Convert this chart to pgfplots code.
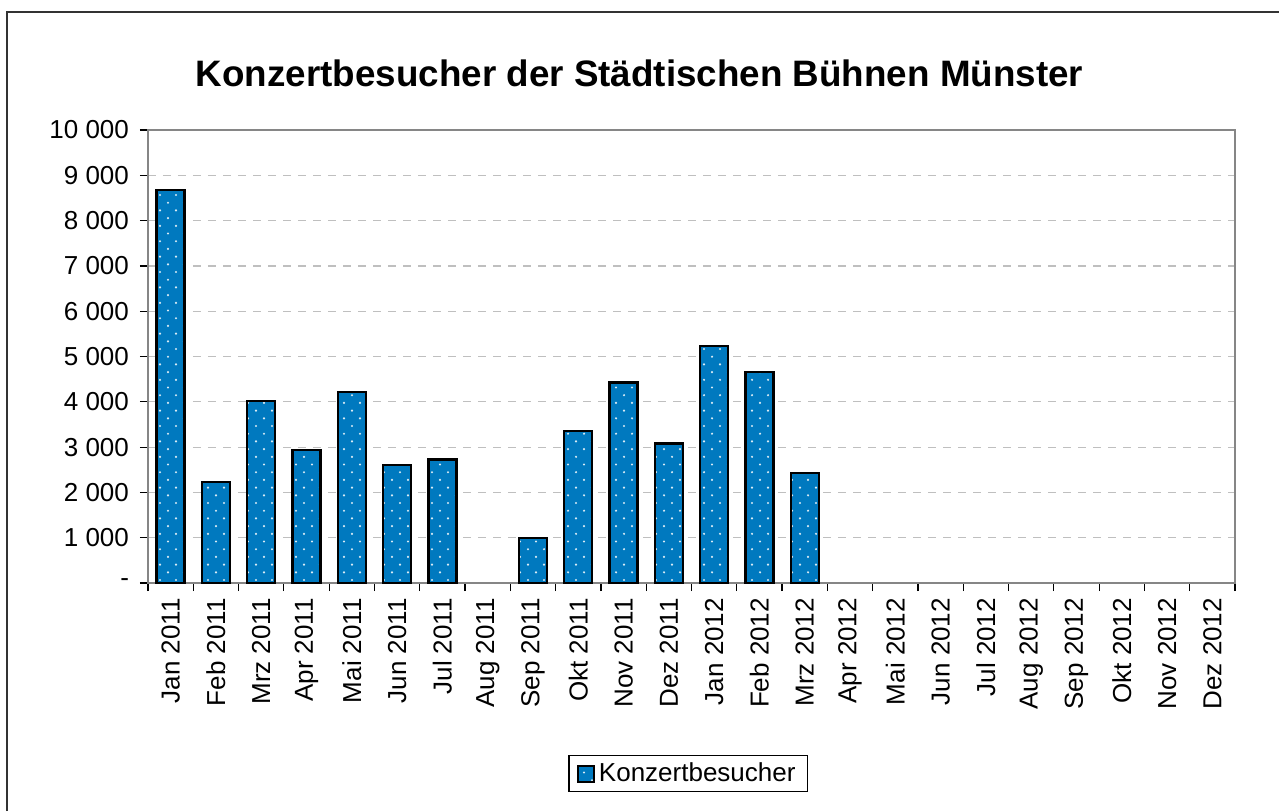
\documentclass[border=0pt]{standalone}
\usepackage{pgfplots}
\pgfplotsset{compat=1.18}
\usepackage{fontspec}
\setmainfont{Liberation Sans}
\usetikzlibrary{patterns.meta}
\definecolor{barblue}{RGB}{0,121,191}
\definecolor{framegray}{RGB}{134,134,134}
\tikzdeclarepattern{
  name=wdots,
  type=uncolored,
  bottom left={(-1pt,-1pt)},
  top right={(7pt,6.7pt)},
  tile size={(8pt,7.7pt)},
  code={
    \fill (0pt,0pt) circle (0.6pt);
    \fill (4pt,3.85pt) circle (0.6pt);
  }
}
\begin{document}
\begin{tikzpicture}
\useasboundingbox (-74pt,-114pt) rectangle (565.5pt,291.5pt);
\draw[line width=1pt, black!80] (-70.5pt,-114pt) -- (-70.5pt,285.5pt) -- (565.5pt,285.5pt);
\node[font=\bfseries\fontsize{18.4pt}{21pt}\selectfont, anchor=base] at (245.75pt,248.5pt) {Konzertbesucher der Städtischen Bühnen Münster};
\begin{axis}[
  at={(0pt,0pt)}, anchor=south west,
  scale only axis,
  width=543.5pt, height=226.5pt,
  xmin=-0.5, xmax=23.5,
  ymin=0, ymax=10000,
  scaled y ticks=false,
  ybar, bar width=14pt,
  axis line style={draw=framegray, line width=1pt},
  tick align=outside,
  xtick pos=left, ytick pos=left,
  major tick length=4pt, minor tick length=4pt,
  xtick={0,...,23},
  xticklabels={Jan 2011,Feb 2011,Mrz 2011,Apr 2011,Mai 2011,Jun 2011,Jul 2011,Aug 2011,Sep 2011,Okt 2011,Nov 2011,Dez 2011,Jan 2012,Feb 2012,Mrz 2012,Apr 2012,Mai 2012,Jun 2012,Jul 2012,Aug 2012,Sep 2012,Okt 2012,Nov 2012,Dez 2012},
  minor xtick={-0.5,0.5,...,23.5},
  major x tick style={draw=none},
  minor x tick style={draw=black, line width=0.6pt},
  ytick={0,1000,...,10000},
  yticklabels={-,1 000,2 000,3 000,4 000,5 000,6 000,7 000,8 000,9 000,10 000},
  major y tick style={draw=black, line width=0.6pt},
  ymajorgrids,
  major grid style={draw=black!25, line width=0.6pt, dash pattern=on 4pt off 3.5pt},
  ticklabel style={font=\fontsize{13pt}{15pt}\selectfont},
  /pgf/number format/assume math mode=true,
  xticklabel style={rotate=90, anchor=east},
  yticklabel style={xshift=-2pt},
  legend style={at={(0.497,-0.38)}, anchor=north, draw=black, line width=0.6pt,
    font=\fontsize{13pt}{15pt}\selectfont, inner xsep=4pt, inner ysep=1.5pt},
  legend image code/.code={
    \draw[fill=barblue, draw=black, line width=1pt] (0pt,-4pt) rectangle (8pt,4pt);
  },
]
\addplot[draw=black, line width=1.2pt, fill=barblue,
  postaction={pattern=wdots, pattern color=white!85!barblue}]
  coordinates {
  (0,8680) (1,2230) (2,4020) (3,2930) (4,4220) (5,2600) (6,2730)
  (8,990) (9,3350) (10,4430) (11,3080) (12,5230) (13,4660) (14,2430)
  };
\addlegendentry{Konzertbesucher}
\end{axis}
\end{tikzpicture}
\end{document}
